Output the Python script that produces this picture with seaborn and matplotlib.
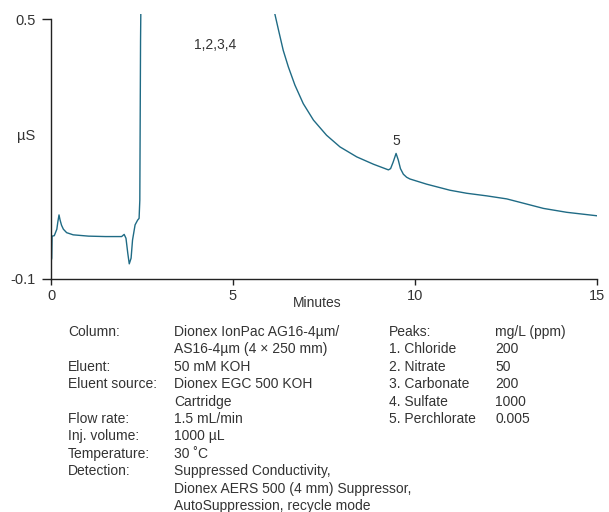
import matplotlib
matplotlib.use("Agg")
import matplotlib.pyplot as plt
import seaborn as sns
import pandas as pd

# Chromatogram trace (minutes, µS); values above 0.5 are off-scale
time_min = [0.0, 0.02, 0.03, 0.09, 0.16, 0.19, 0.22, 0.25, 0.29, 0.34, 0.43, 0.61,
            1.03, 1.50, 1.94, 2.01, 2.06, 2.11, 2.15, 2.20, 2.24, 2.31, 2.38, 2.42,
            2.44, 2.46, 2.50, 5.90, 6.15, 6.25, 6.38, 6.52, 6.70, 6.93, 7.21, 7.57,
            7.94, 8.40, 8.86, 9.27, 9.33, 9.40, 9.48, 9.54, 9.60, 9.68, 9.77, 9.86,
            10.32, 10.96, 11.42, 11.97, 12.52, 12.98, 13.53, 14.17, 15.0]
signal_us = [-0.06, -0.052, -0.001, 0.0, 0.015, 0.033, 0.048, 0.036, 0.024, 0.015,
             0.007, 0.002, -0.001, -0.002, -0.002, 0.003, -0.006, -0.041, -0.065,
             -0.052, -0.010, 0.025, 0.036, 0.040, 0.082, 0.45, 0.80, 0.80, 0.512,
             0.475, 0.428, 0.390, 0.348, 0.305, 0.267, 0.232, 0.205, 0.182, 0.165,
             0.152, 0.155, 0.170, 0.190, 0.175, 0.155, 0.142, 0.135, 0.131, 0.119,
             0.105, 0.098, 0.092, 0.085, 0.075, 0.063, 0.054, 0.046]

x_ticks = [0, 5, 10, 15]
y_ticks = [-0.1, 0.5]
y_tick_labels = ["-0.1", "0.5"]

peak_labels = ["1,2,3,4", "5"]
peak_label_x = [4.5, 9.48]
peak_label_y = [0.441, 0.218]

cond_labels = ["Column:", "", "Eluent:", "Eluent source:", "", "Flow rate:",
               "Inj. volume:", "Temperature:", "Detection:", "", ""]
cond_values = ["Dionex IonPac AG16-4\u00b5m/", "AS16-4\u00b5m (4 \u00d7 250 mm)",
               "50 mM KOH", "Dionex EGC 500 KOH", "Cartridge", "1.5 mL/min",
               "1000 \u00b5L", "30 \u02daC", "Suppressed Conductivity,",
               "Dionex AERS 500 (4 mm) Suppressor,", "AutoSuppression, recycle mode"]
peak_names = ["Peaks:", "1. Chloride", "2. Nitrate", "3. Carbonate", "4. Sulfate",
              "5. Perchlorate"]
peak_conc = ["mg/L (ppm)", "200", "50", "200", "1000", "0.005"]

sns.set_style("ticks")
plt.rcParams['font.family'] = ['Liberation Sans', 'DejaVu Sans']

W, H = 609, 512
fig = plt.figure(figsize=(W / 100, H / 100), dpi=100)
ax = fig.add_axes([51 / W, 1 - 279 / H, (597 - 51) / W, (279 - 14) / H])

df = pd.DataFrame({"t": time_min, "s": signal_us})
line_color = "#1f6b85"
sns.lineplot(data=df, x="t", y="s", ax=ax, color=line_color, linewidth=1.0,
             estimator=None, sort=False)

ax.set_xlim(0, 15)
ax.set_ylim(-0.1, 0.512)
ax.spines["left"].set_bounds(-0.1, 0.5)
sns.despine(ax=ax)
for sp in ("left", "bottom"):
    ax.spines[sp].set_color("#222222")
    ax.spines[sp].set_linewidth(1.0)

text_color = "#333333"
ax.set_xticks(x_ticks)
ax.set_xticklabels([str(v) for v in x_ticks])
ax.set_yticks(y_ticks)
ax.set_yticklabels(y_tick_labels)
ax.tick_params(axis="x", length=4.5, width=1, color="#222222", labelsize=10.5,
               labelcolor=text_color, pad=3)
ax.tick_params(axis="y", length=6.5, width=1, color="#222222", labelsize=10.5,
               labelcolor=text_color, pad=4.5)
ax.set_xlabel("")
ax.set_ylabel("")
fig.text(317 / W, 1 - 303 / H, "Minutes", fontsize=10, color=text_color,
         ha="center", va="center")
fig.text(26 / W, 1 - 136 / H, "\u00b5S", fontsize=10.5, color=text_color,
         ha="center", va="center")

for lab, lx, ly in zip(peak_labels, peak_label_x, peak_label_y):
    ax.text(lx, ly, lab, fontsize=10, color=text_color, ha="center", va="center")

row_y0 = 332
row_dy = 17.4
for i, (lab, val) in enumerate(zip(cond_labels, cond_values)):
    y = 1 - (row_y0 + i * row_dy) / H
    if lab:
        fig.text(68 / W, y, lab, fontsize=10, color=text_color, va="center")
    fig.text(174 / W, y, val, fontsize=10, color=text_color, va="center")
for i, (nm, cc) in enumerate(zip(peak_names, peak_conc)):
    y = 1 - (row_y0 + i * row_dy) / H
    fig.text(389 / W, y, nm, fontsize=10, color=text_color, va="center")
    fig.text(495 / W, y, cc, fontsize=10, color=text_color, va="center")

fig.savefig("out.png", dpi=100)
